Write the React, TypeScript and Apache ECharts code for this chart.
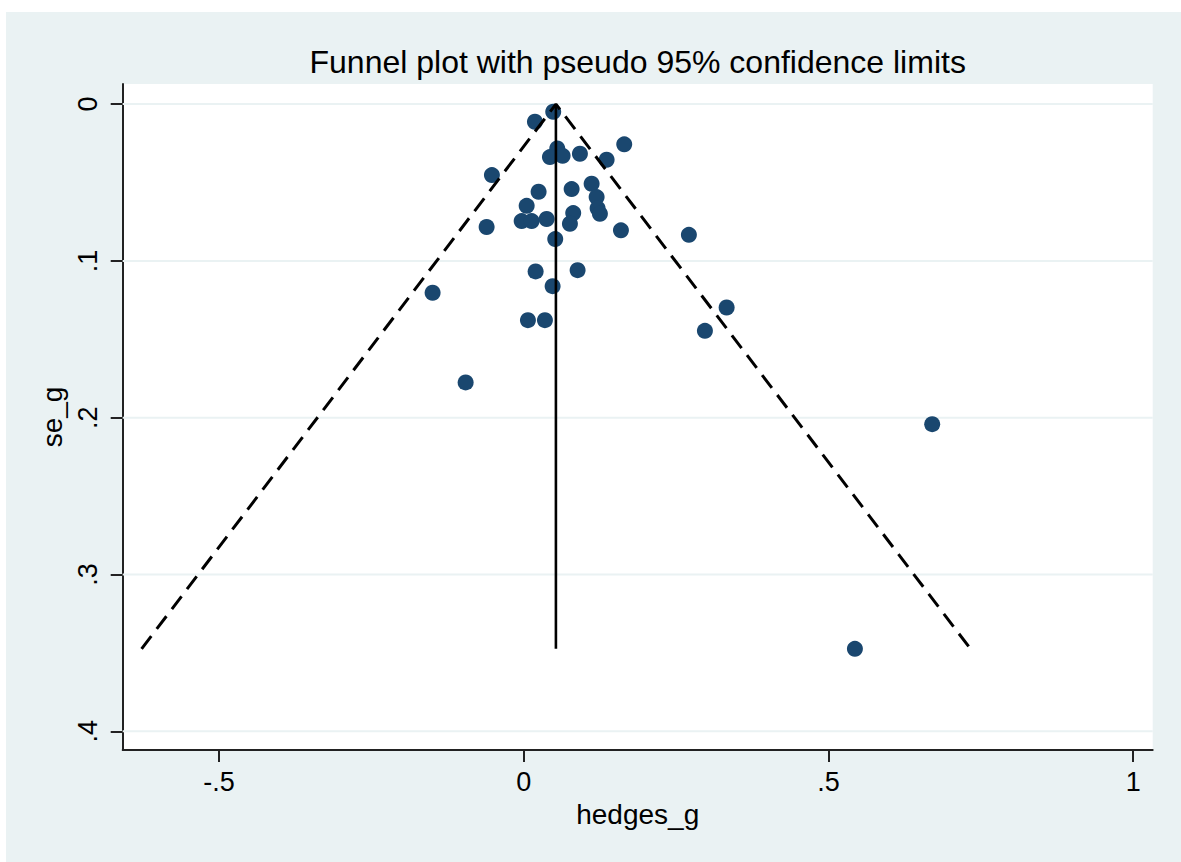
import React, { useEffect, useRef } from "react";
import * as echarts from "echarts";

// Study effect sizes (hedges_g) and their standard errors (se_g)
const hedgesG = [
  0.0484, 0.0184, 0.1649, 0.055, 0.043, 0.0638, 0.0922, 0.136, -0.0522, 0.0786,
  0.1114, 0.0244, 0.1196, 0.0048, 0.1212, 0.125, 0.0812, -0.0034, 0.013, 0.0376,
  0.0758, -0.0609, 0.1595, 0.0517, 0.0195, 0.0884, 0.0474, -0.1495, 0.0069, 0.0348,
  -0.0953, 0.271, 0.3329, 0.2973, 0.6702, 0.5434,
];
const seG = [
  0.0049, 0.0113, 0.0257, 0.0283, 0.0338, 0.033, 0.0317, 0.0355, 0.0453, 0.0542,
  0.0508, 0.0559, 0.0593, 0.0649, 0.0665, 0.07, 0.0695, 0.0746, 0.0746, 0.0733,
  0.0763, 0.0784, 0.0805, 0.0861, 0.1067, 0.1059, 0.1161, 0.1203, 0.1378, 0.1378,
  0.1775, 0.0834, 0.1297, 0.1446, 0.2041, 0.3474,
];

// Funnel (pseudo 95% confidence limits)
const pooledEffect = 0.0528;
const maxSe = 0.3474;
const lowerLimitAtMaxSe = -0.627;
const upperLimitAtMaxSe = 0.733;

// Axes
const xTicks = [-0.5, 0, 0.5, 1];
const yTicks = [0, 0.1, 0.2, 0.3, 0.4];
const xRange = [-0.658, 1.032];
const yRange = [-0.0128, 0.4119];

const titleText = "Funnel plot with pseudo 95% confidence limits";
const xName = "hedges_g";
const yName = "se_g";

const FONT = "'Liberation Sans', Arial, Helvetica, sans-serif";
const BG = "#eaf2f3";
const AXIS = "#222222";

const stataFmt = (v: number) => {
  if (v === 0) return "0";
  return String(v).replace("0.", ".");
};

export default function App() {
  const ref = useRef<HTMLDivElement>(null);

  useEffect(() => {
    if (!ref.current) return;
    const chart = echarts.init(ref.current, undefined, { renderer: "svg" });

    const gridLeft = 116.7;
    const gridRight = 28.3;
    const width = 1175;
    const centerX = gridLeft + (width - gridLeft - gridRight) / 2;

    const gridSeries = yTicks.map((v) => ({
      type: "line",
      silent: true,
      z: 1,
      symbol: "none",
      data: [
        [xRange[0], v],
        [xRange[1], v],
      ],
      lineStyle: { color: BG, width: 2 },
    }));

    const option: any = {
      animation: false,
      backgroundColor: BG,
      graphic: [
        {
          type: "text",
          x: centerX,
          y: 34,
          style: {
            text: titleText,
            fontSize: 32,
            fontFamily: FONT,
            fill: "#000",
            align: "center",
            textAlign: "center",
            verticalAlign: "top",
            textVerticalAlign: "top",
          },
        },
      ],
      grid: {
        left: gridLeft,
        right: gridRight,
        top: 72,
        bottom: 112,
        show: true,
        backgroundColor: "#ffffff",
        borderWidth: 0,
        containLabel: false,
      },
      xAxis: {
        type: "value",
        min: xRange[0],
        max: xRange[1],
        name: xName,
        nameLocation: "middle",
        nameGap: 50,
        nameTextStyle: { fontSize: 28, fontFamily: FONT, color: "#000" },
        axisLine: { show: true, onZero: false, lineStyle: { color: AXIS, width: 2 } },
        axisTick: { show: true, length: 12, customValues: xTicks, lineStyle: { color: AXIS, width: 2 } },
        axisLabel: {
          customValues: xTicks,
          formatter: stataFmt,
          fontSize: 27,
          fontFamily: FONT,
          color: "#000",
          margin: 18,
        },
        splitLine: { show: false },
      },
      yAxis: {
        type: "value",
        inverse: true,
        min: yRange[0],
        max: yRange[1],
        name: yName,
        nameLocation: "middle",
        nameGap: 51,
        nameRotate: 90,
        nameTextStyle: { fontSize: 28, fontFamily: FONT, color: "#000" },
        axisLine: { show: true, onZero: false, lineStyle: { color: AXIS, width: 2 } },
        axisTick: { show: true, length: 12, customValues: yTicks, lineStyle: { color: AXIS, width: 2 } },
        axisLabel: {
          customValues: yTicks,
          formatter: stataFmt,
          rotate: 90,
          fontSize: 27,
          fontFamily: FONT,
          color: "#000",
          margin: 21,
        },
        splitLine: { show: false },
      },
      series: [
        ...gridSeries,
        {
          type: "scatter",
          z: 2,
          symbol: "circle",
          symbolSize: 16,
          data: hedgesG.map((g, i) => [g, seG[i]]),
          itemStyle: { color: "#1a476f", opacity: 1 },
        },
        {
          type: "line",
          z: 3,
          silent: true,
          symbol: "none",
          data: [
            [lowerLimitAtMaxSe, maxSe],
            [pooledEffect, 0],
            [upperLimitAtMaxSe, maxSe],
          ],
          lineStyle: { color: "#000", width: 3, type: [16, 9] },
        },
        {
          type: "line",
          z: 3,
          silent: true,
          symbol: "none",
          data: [
            [pooledEffect, 0],
            [pooledEffect, maxSe],
          ],
          lineStyle: { color: "#000", width: 2.6, type: "solid" },
        },
      ],
    };

    chart.setOption(option);
    return () => chart.dispose();
  }, []);

  return (
    <div
      ref={ref}
      style={{ position: "absolute", left: 6, top: 12, width: 1175, height: 850 }}
    />
  );
}
